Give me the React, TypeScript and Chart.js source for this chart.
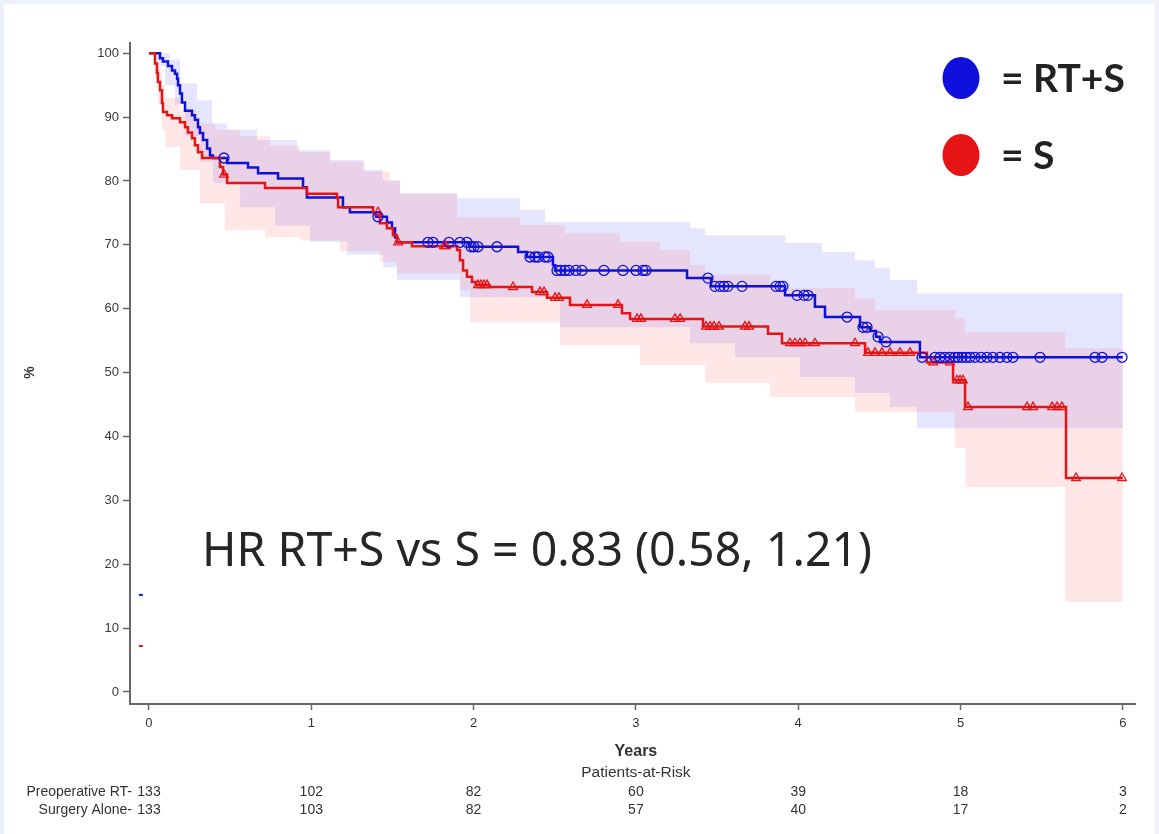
import React, { useEffect, useRef } from "react";
import { Chart, registerables } from "chart.js";
Chart.register(...registerables);

// ---------- data ----------
const xTickLabels = [0, 1, 2, 3, 4, 5, 6];
const yTickLabels = [0, 10, 20, 30, 40, 50, 60, 70, 80, 90, 100];

// Kaplan-Meier estimate, RT+S (blue)
const rtTimes = [0, 0.068, 0.086, 0.117, 0.142, 0.16, 0.173, 0.179, 0.191, 0.203, 0.222, 0.265, 0.283, 0.302, 0.314, 0.333, 0.358, 0.376, 0.394, 0.481, 0.61, 0.672, 0.795, 0.949, 0.973, 1.195, 1.238, 1.399, 1.466, 1.497, 1.516, 1.528, 1.972, 2.274, 2.329, 2.489, 2.502, 3.315, 3.463, 3.919, 4.103, 4.165, 4.381, 4.442, 4.479, 4.504, 4.75, 6.0];
const rtSurv = [100, 99.2, 98.7, 98.0, 97.3, 96.8, 96.0, 95.0, 93.7, 92.3, 91.0, 90.3, 89.6, 88.4, 87.5, 86.4, 85.1, 84.0, 83.6, 82.8, 82.1, 81.2, 80.4, 79.0, 77.4, 75.9, 75.1, 74.4, 73.5, 72.6, 71.2, 70.4, 69.7, 68.9, 68.1, 66.8, 66.0, 64.8, 63.5, 62.1, 60.3, 58.7, 57.1, 56.5, 55.6, 54.8, 52.4, 52.4];
const rtCensor = [0.462, 1.411, 1.719, 1.75, 1.848, 1.916, 1.959, 1.984, 2.002, 2.027, 2.144, 2.347, 2.378, 2.397, 2.44, 2.458, 2.514, 2.538, 2.563, 2.588, 2.631, 2.668, 2.803, 2.92, 3.001, 3.044, 3.062, 3.444, 3.487, 3.518, 3.543, 3.567, 3.654, 3.863, 3.888, 3.906, 3.993, 4.036, 4.06, 4.301, 4.399, 4.424, 4.492, 4.541, 4.763, 4.843, 4.874, 4.904, 4.935, 4.966, 4.985, 5.009, 5.034, 5.058, 5.089, 5.126, 5.163, 5.2, 5.243, 5.286, 5.323, 5.49, 5.829, 5.872, 5.995];

// Kaplan-Meier estimate, S (red)
const sTimes = [0, 0.037, 0.049, 0.055, 0.068, 0.08, 0.086, 0.111, 0.142, 0.191, 0.222, 0.24, 0.265, 0.283, 0.302, 0.327, 0.437, 0.456, 0.481, 0.715, 0.973, 1.158, 1.165, 1.38, 1.423, 1.466, 1.503, 1.528, 1.62, 1.898, 1.916, 1.935, 1.959, 1.99, 2.015, 2.095, 2.36, 2.452, 2.594, 2.914, 2.964, 3.413, 3.814, 3.9, 4.412, 4.793, 4.954, 5.028, 5.65, 6.0];
const sSurv = [100, 98.4, 96.9, 95.5, 94.2, 92.2, 90.8, 90.3, 89.8, 89.2, 88.4, 87.6, 86.7, 85.6, 84.5, 83.6, 82.2, 81.0, 79.7, 78.9, 78.0, 77.3, 75.9, 75.1, 73.4, 72.6, 71.5, 70.4, 69.8, 69.2, 67.6, 66.0, 65.0, 64.2, 63.7, 63.4, 62.6, 61.7, 60.6, 59.3, 58.4, 57.2, 56.1, 54.6, 53.1, 51.6, 48.8, 44.6, 33.5, 33.5];
const sCensor = [0.462, 1.411, 1.535, 1.818, 1.83, 2.027, 2.045, 2.064, 2.083, 2.243, 2.409, 2.434, 2.502, 2.526, 2.699, 2.89, 3.007, 3.031, 3.241, 3.272, 3.432, 3.457, 3.481, 3.512, 3.672, 3.697, 3.949, 3.98, 4.011, 4.042, 4.103, 4.35, 4.43, 4.473, 4.516, 4.566, 4.627, 4.689, 4.831, 4.935, 4.978, 4.997, 5.015, 5.046, 5.41, 5.447, 5.564, 5.595, 5.625, 5.712, 5.995];

// confidence bands
const rtBandTimes = [0, 0.049, 0.099, 0.129, 0.16, 0.191, 0.222, 0.296, 0.314, 0.388, 0.394, 0.481, 0.561, 0.665, 0.776, 0.912, 0.992, 1.115, 1.22, 1.319, 1.442, 1.528, 1.547, 1.898, 1.916, 2.286, 2.44, 2.532, 3.333, 3.426, 3.611, 3.919, 4.011, 4.147, 4.35, 4.473, 4.566, 4.732, 6.0];
const rtLower = [100, 98, 95, 95, 92, 92, 87, 87, 83, 83, 79.7, 79.7, 75.9, 75.9, 73, 73, 70.5, 70.5, 68.5, 68.5, 66.5, 64.5, 64.5, 64.5, 61.8, 61.8, 61.8, 57.1, 54.6, 54.6, 52.4, 52.4, 49.3, 49.3, 46.8, 46.8, 44.6, 41.3, 41.3];
const rtUpper = [100, 100, 100, 99, 99, 95.3, 95.3, 92.6, 92.6, 89, 89, 88, 88, 86.4, 86.4, 84.8, 84.8, 83.3, 83.3, 81.7, 80.1, 80.1, 78.1, 77.3, 77.3, 75.5, 73.6, 73.6, 72.6, 71.5, 71.5, 70.3, 70.3, 68.9, 67.6, 66.4, 64.5, 62.4, 62.4];

const sBandTimes = [0, 0.037, 0.055, 0.068, 0.08, 0.099, 0.191, 0.296, 0.314, 0.407, 0.468, 0.561, 0.715, 0.746, 0.93, 1.115, 1.177, 1.331, 1.423, 1.485, 1.528, 1.547, 1.898, 1.916, 1.978, 2.286, 2.532, 2.563, 2.902, 3.025, 3.149, 3.333, 3.426, 3.826, 4.35, 4.473, 4.966, 5.028, 5.644, 6.0];
const sLower = [100, 96, 92, 92, 88, 85.3, 81.7, 81.7, 76.5, 76.5, 72.3, 72.3, 71.2, 71.2, 70.7, 70.7, 69, 69, 67.3, 67.3, 65.5, 65.5, 65.5, 62.9, 57.9, 57.9, 54.3, 54.3, 54.3, 51.2, 51.2, 51.2, 48.4, 46.2, 43.8, 43.8, 38.2, 32.1, 14.1, 14.1];
const sUpper = [100, 98, 98, 97, 95, 93, 91, 89, 89, 88, 88, 87, 87, 85.5, 84.5, 83, 83, 81.5, 81.5, 80, 80, 78, 74.3, 74.3, 74.3, 73.1, 73.1, 71.8, 70.5, 70.5, 69.2, 66.8, 65.3, 63.2, 61.6, 59.8, 58.5, 56.3, 53.8, 53.8];

// patients at risk
const riskRowLabels = ["Preoperative RT-", "Surgery Alone-"];
const riskRT = [133, 102, 82, 60, 39, 18, 3];
const riskS = [133, 103, 82, 57, 40, 17, 2];

// small colour stubs at the left of the plot
const stubTime = -0.05;
const stubValues = [15.2, 7.2];

const legendLabels = ["= RT+S", "= S"];
const hrText = "HR RT+S vs S = 0.83 (0.58, 1.21)";

// ---------- helpers ----------
const BLUE = "#1010dc";
const RED = "#e61414";

function toPoints(t: number[], v: number[]) {
  return t.map((x, i) => ({ x, y: v[i] }));
}
function stepAt(t: number[], v: number[], at: number) {
  let val = v[0];
  for (let i = 0; i < t.length; i++) if (t[i] <= at) val = v[i];
  return val;
}

const decorPlugin = {
  id: "decor",
  beforeDraw(chart: any) {
    const ctx = chart.ctx;
    ctx.save();
    ctx.fillStyle = "#eef1f7";
    ctx.fillRect(0, 0, chart.width, chart.height);
    ctx.fillStyle = "#ffffff";
    ctx.fillRect(4, 4, chart.width - 8, chart.height - 4);
    ctx.restore();
  },
  afterDraw(chart: any) {
    const ctx = chart.ctx;
    const xs = chart.scales.x;
    const ys = chart.scales.y;
    ctx.save();

    // stubs
    const stubColors = [BLUE, RED];
    stubValues.forEach((v, i) => {
      const px = xs.getPixelForValue(stubTime);
      const py = ys.getPixelForValue(v);
      ctx.strokeStyle = stubColors[i];
      ctx.lineWidth = 2;
      ctx.beginPath();
      ctx.moveTo(px - 2, py);
      ctx.lineTo(px + 2, py);
      ctx.stroke();
    });

    // y title "%"
    ctx.fillStyle = "#333";
    ctx.font = "bold 14px 'Liberation Sans', Arial, sans-serif";
    ctx.textAlign = "center";
    ctx.textBaseline = "middle";
    ctx.save();
    ctx.translate(30, ys.getPixelForValue(50));
    ctx.rotate(-Math.PI / 2);
    ctx.fillText("%", 0, 0);
    ctx.restore();

    const midX = xs.getPixelForValue(3);
    ctx.font = "bold 16px 'Liberation Sans', Arial, sans-serif";
    ctx.fillText("Years", midX, 752);
    ctx.font = "15.5px 'Liberation Sans', Arial, sans-serif";
    ctx.fillText("Patients-at-Risk", midX, 773);

    // risk table
    ctx.font = "14px 'Liberation Sans', Arial, sans-serif";
    const rows = [riskRT, riskS];
    const rowY = [792, 810];
    rows.forEach((row, r) => {
      ctx.textAlign = "right";
      ctx.fillText(riskRowLabels[r], 132, rowY[r]);
      ctx.textAlign = "center";
      row.forEach((n, i) => {
        ctx.fillText(String(n), xs.getPixelForValue(xTickLabels[i]), rowY[r]);
      });
    });

    // HR text
    ctx.fillStyle = "#262626";
    ctx.font = "46.5px 'Noto Sans', 'Open Sans', sans-serif";
    ctx.textAlign = "left";
    ctx.textBaseline = "alphabetic";
    ctx.fillText(hrText, 202, 566);

    // legend
    const legColors = [BLUE, RED];
    const legY = [78, 155];
    legendLabels.forEach((lab, i) => {
      ctx.fillStyle = legColors[i];
      ctx.beginPath();
      ctx.ellipse(961, legY[i], 18.5, 21, 0, 0, Math.PI * 2);
      ctx.fill();
      ctx.fillStyle = "#222";
      ctx.font = "bold 39px Lato, 'Open Sans', sans-serif";
      ctx.textAlign = "left";
      ctx.textBaseline = "middle";
      ctx.fillText(lab, 1001, legY[i] + 1);
    });

    ctx.restore();
  },
};

export default function App() {
  const ref = useRef<HTMLCanvasElement | null>(null);
  useEffect(() => {
    if (!ref.current) return;
    const lineBase = { pointRadius: 0, stepped: true as const, fill: false, order: 2 };
    const bandBase = { pointRadius: 0, stepped: true as const, borderWidth: 0, borderColor: "transparent", order: 10 };
    const chart = new Chart(ref.current, {
      type: "line",
      data: {
        datasets: [
          { ...bandBase, data: toPoints(rtBandTimes, rtLower), fill: false },
          { ...bandBase, data: toPoints(rtBandTimes, rtUpper), fill: "-1", backgroundColor: "rgba(100,100,255,0.17)" },
          { ...bandBase, data: toPoints(sBandTimes, sLower), fill: false, order: 9 },
          { ...bandBase, data: toPoints(sBandTimes, sUpper), fill: "-1", backgroundColor: "rgba(255,110,110,0.17)", order: 9 },
          { ...lineBase, data: toPoints(sTimes, sSurv), borderColor: RED, borderWidth: 2.5 },
          { ...lineBase, data: toPoints(rtTimes, rtSurv), borderColor: BLUE, borderWidth: 2.5 },
          {
            data: sCensor.map((t) => ({ x: t, y: stepAt(sTimes, sSurv, t) })),
            showLine: false,
            pointStyle: "triangle",
            pointRadius: 5,
            pointBorderWidth: 1.3,
            pointBorderColor: RED,
            pointBackgroundColor: "rgba(0,0,0,0)",
            order: 1,
          },
          {
            data: rtCensor.map((t) => ({ x: t, y: stepAt(rtTimes, rtSurv, t) })),
            showLine: false,
            pointStyle: "circle",
            pointRadius: 5,
            pointBorderWidth: 1.3,
            pointBorderColor: BLUE,
            pointBackgroundColor: "rgba(0,0,0,0)",
            order: 0,
          },
        ] as any,
      },
      options: {
        animation: false,
        responsive: false,
        devicePixelRatio: 1,
        layout: { padding: { top: 43, right: 24, left: 0, bottom: 0 } },
        plugins: { legend: { display: false }, tooltip: { enabled: false } },
        scales: {
          x: {
            type: "linear",
            min: -0.117,
            max: 6.075,
            afterBuildTicks: (s: any) => {
              s.ticks = xTickLabels.map((v) => ({ value: v }));
            },
            afterFit: (s: any) => {
              s.height = 130;
            },
            grid: { drawOnChartArea: false, drawTicks: true, tickLength: 6, color: "#666", tickWidth: 1.5 },
            border: { display: true, color: "#666", width: 2 },
            ticks: { color: "#333", padding: 6, font: { size: 13, family: "'Liberation Sans', Arial, sans-serif" }, maxRotation: 0 },
          },
          y: {
            type: "linear",
            min: -1.88,
            max: 101.6,
            afterBuildTicks: (s: any) => {
              s.ticks = yTickLabels.map((v) => ({ value: v }));
            },
            afterFit: (s: any) => {
              s.width = 130;
            },
            grid: { drawOnChartArea: false, drawTicks: true, tickLength: 7, color: "#666", tickWidth: 1.5 },
            border: { display: true, color: "#666", width: 2 },
            ticks: { color: "#3a3a3a", padding: 4, font: { size: 13, family: "'Liberation Sans', Arial, sans-serif" } },
          },
        },
      } as any,
      plugins: [decorPlugin],
    });
    return () => chart.destroy();
  }, []);
  return (
    <div style={{ position: "absolute", left: 0, top: 0, width: 1159, height: 834 }}>
      <canvas ref={ref} width={1159} height={834} style={{ display: "block", width: 1159, height: 834 }} />
    </div>
  );
}
